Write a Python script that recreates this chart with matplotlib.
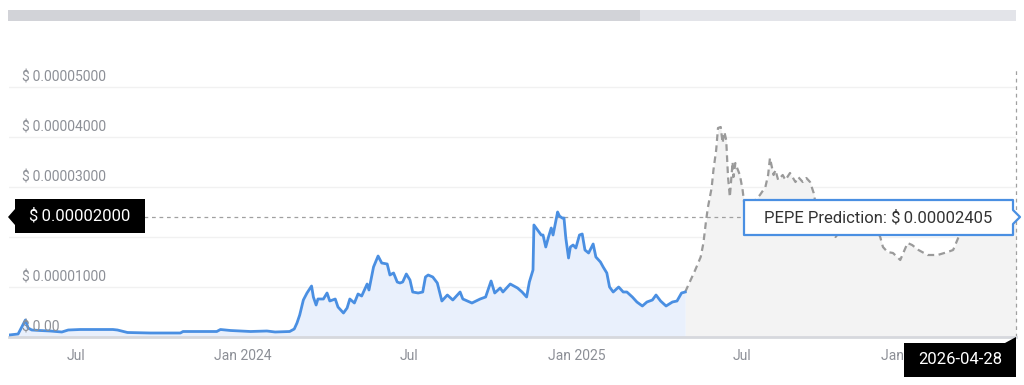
import matplotlib
matplotlib.use("Agg")
import matplotlib.pyplot as plt
from matplotlib.patches import Polygon, Rectangle
import numpy as np

plt.rcParams['font.family'] = ['Roboto', 'DejaVu Sans']

start_date = np.datetime64('2023-04-19')
end_date = np.datetime64('2026-04-28')

# price history: days after start_date, price in 1e-8 USD
hist_days = [0, 10, 14, 18, 21, 25, 34, 45, 58, 65, 78, 94, 114, 119, 130, 155, 188, 191,
             210, 228, 232, 243, 265, 283, 292, 308, 313, 316, 319, 323, 327, 332, 334, 337,
             339, 345, 349, 352, 358, 361, 367, 371, 374, 379, 383, 387, 393, 395, 400, 405,
             409, 415, 418, 422, 426, 429, 432, 436, 440, 443, 449, 454, 457, 460, 465, 470,
             475, 481, 487, 495, 498, 508, 517, 523, 529, 533, 539, 542, 550, 558, 563, 568,
             571, 575, 576, 580, 584, 586, 589, 592, 595, 597, 602, 604, 607, 609, 611, 614,
             616, 619, 622, 626, 629, 632, 636, 641, 644, 649, 652, 656, 659, 663, 669, 674,
             678, 684, 689, 695, 700, 706, 710, 715, 721, 728, 733, 738, 742]
hist_price = [40, 60, 200, 340, 180, 140, 130, 120, 100, 140, 150, 150, 150, 140, 90, 80, 80, 110,
              110, 110, 150, 130, 110, 120, 100, 110, 160, 280, 440, 740, 880, 1020, 800, 640,
              760, 760, 880, 720, 760, 600, 480, 580, 760, 680, 860, 820, 1060, 940, 1400, 1620,
              1480, 1460, 1240, 1280, 1100, 1080, 1100, 1260, 1140, 900, 880, 900, 1200, 1240, 1200, 1080,
              720, 840, 740, 900, 760, 680, 760, 800, 1120, 880, 980, 900, 1060, 980, 900, 800,
              1100, 1340, 2240, 2140, 2040, 2040, 1800, 2000, 2180, 2040, 2500, 2420, 2380, 2380, 1980, 1580,
              1800, 1840, 1780, 2040, 2060, 1740, 1680, 1860, 1600, 1500, 1400, 1280, 1000, 900, 1000, 900,
              900, 800, 700, 620, 700, 740, 840, 720, 620, 700, 720, 880, 900]

# prediction: days after start_date, price in 1e-8 USD
pred_days = [742, 748, 753, 759, 762, 765, 767, 771, 773, 776, 778, 781, 783, 785, 787, 789,
             791, 794, 795, 797, 799, 802, 805, 807, 813, 819, 824, 830, 833, 835, 839, 841,
             844, 849, 852, 857, 863, 866, 871, 875, 879, 883, 885, 896, 907, 918, 934, 951,
             956, 959, 964, 970, 978, 986, 991, 998, 1008, 1019, 1030, 1036, 1042, 1046, 1060,
             1077, 1088, 1097, 1105]
pred_price = [900, 1140, 1340, 1600, 1880, 2340, 2600, 2980, 3340, 3740, 4180, 4200, 3880, 4100, 3940, 3200,
              2800, 3500, 3200, 3480, 3380, 3240, 2940, 2640, 2700, 2740, 2840, 3000, 3240, 3580, 3240, 3340,
              3140, 3240, 3140, 3280, 3100, 3200, 3100, 3180, 3100, 2880, 2680, 2350, 2000, 2250, 2300, 2200,
              2000, 1800, 1700, 1680, 1540, 1880, 1840, 1740, 1640, 1640, 1700, 1740, 2000, 2200, 2350,
              2400, 2400, 2350, 2405]

y_ticks = [0, 1e-5, 2e-5, 3e-5, 4e-5, 5e-5]
y_labels = ['$\u20090.00', '$\u20090.00001000', '$\u20090.00002000', '$\u20090.00003000',
            '$\u20090.00004000', '$\u20090.00005000']
x_ticks = ['2023-07-01', '2024-01-01', '2024-07-01', '2025-01-01', '2025-07-01', '2026-01-01']
x_labels = ['Jul', 'Jan 2024', 'Jul', 'Jan 2025', 'Jul', 'Jan 2026']
cursor_price_label = '$\u20090.00002000'
cursor_date_label = '2026-04-28'
tooltip_label = 'PEPE Prediction: $\u20090.00002405'

W, H = 1024, 385


def px(x, y):
    return (x / W, 1 - y / H)


hist_dates = start_date + np.array(hist_days).astype('timedelta64[D]')
pred_dates = start_date + np.array(pred_days).astype('timedelta64[D]')
hist_vals = np.array(hist_price) * 1e-8
pred_vals = np.array(pred_price) * 1e-8

fig = plt.figure(figsize=(W / 100, H / 100), dpi=100)
ax = fig.add_axes([9 / W, (H - 337) / H, (1016 - 9) / W, (337 - 67) / H])

ax.fill_between(pred_dates, 0, pred_vals, color='#f3f3f3', lw=0, zorder=1)
ax.plot(pred_dates, pred_vals, color='#9a9a9a', lw=1.6, ls=(0, (3, 2)), zorder=3)
ax.fill_between(hist_dates, 0, hist_vals, color='#e9f0fc', lw=0, zorder=1)
ax.plot(hist_dates, hist_vals, color='#4a8fe2', lw=2.0, zorder=4)

ax.set_xlim(start_date, end_date)
ax.set_ylim(0, 5.4e-5)

ax.set_yticks(y_ticks)
ax.set_yticklabels([])
ax.yaxis.grid(True, color='#f1f1f1', lw=1)
ax.set_axisbelow(True)
for v, lab in zip(y_ticks, y_labels):
    ax.annotate(lab.replace('$', '\\$'), xy=(13 / 1007, v), xycoords=ax.get_yaxis_transform(),
                xytext=(0, 6.5), textcoords='offset points', ha='left', va='center',
                fontsize=10, color='#8c8f96', zorder=5)

ax.set_xticks(np.array(x_ticks, dtype='datetime64[D]'))
ax.set_xticklabels(x_labels)
ax.tick_params(axis='x', length=0, pad=9, labelsize=10, labelcolor='#8c8f96')
ax.tick_params(axis='y', length=0)

for s in ['top', 'right', 'left']:
    ax.spines[s].set_visible(False)
ax.spines['bottom'].set_color('#d6d8dd')
ax.spines['bottom'].set_linewidth(2)

# crosshair
ax.axhline(pred_vals[-1], color='#a0a0a0', lw=0.9, ls=(0, (3, 3)), zorder=2)
ax.axvline(end_date, color='#a0a0a0', lw=0.9, ls=(0, (3, 3)), zorder=2, clip_on=False)

# top range bar
fig.patches.append(Rectangle(px(8, 21), 632 / W, 11 / H, transform=fig.transFigure,
                             color='#d2d3d8', lw=0))
fig.patches.append(Rectangle(px(640, 21), 376 / W, 11 / H, transform=fig.transFigure,
                             color='#e3e4e9', lw=0))

# price cursor box
box = [(8, 217), (15, 209), (15, 199), (145, 199), (145, 233), (15, 233), (15, 225)]
fig.patches.append(Polygon([px(*p) for p in box], closed=True, transform=fig.transFigure,
                           facecolor='black', edgecolor='none', zorder=5))
fig.text(*px(80, 216), cursor_price_label.replace('$', '\\$'), color='white', fontsize=12,
         ha='center', va='center', zorder=6)

# date cursor box
dbox = [(904, 343), (1005, 343), (1016, 337), (1016, 377), (904, 377)]
fig.patches.append(Polygon([px(*p) for p in dbox], closed=True, transform=fig.transFigure,
                           facecolor='black', edgecolor='none', zorder=5))
fig.text(*px(960, 360), cursor_date_label, color='white', fontsize=12,
         ha='center', va='center', zorder=6)

# tooltip
tbox = [(744, 200), (1013, 200), (1013, 210), (1020, 217), (1013, 224), (1013, 235), (744, 235)]
fig.patches.append(Polygon([px(*p) for p in tbox], closed=True, transform=fig.transFigure,
                           facecolor='white', edgecolor='#4a8fe2', lw=1.6, joinstyle='round',
                           zorder=5))
fig.text(*px(878, 218), tooltip_label.replace('$', '\\$'), color='#333333', fontsize=12,
         ha='center', va='center', zorder=6)

fig.savefig('out.png', dpi=100)
